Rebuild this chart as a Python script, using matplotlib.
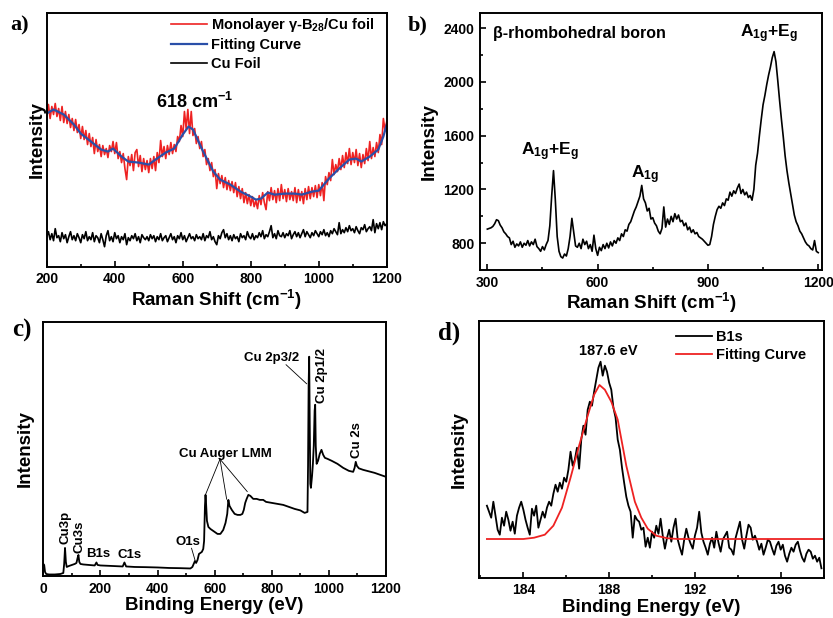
import matplotlib
matplotlib.use('Agg')
import matplotlib.pyplot as plt
from matplotlib.ticker import MultipleLocator

plt.rcParams['font.family'] = ['Liberation Sans', 'DejaVu Sans']
plt.rcParams['font.weight'] = 'bold'
plt.rcParams['axes.labelweight'] = 'bold'
plt.rcParams['mathtext.default'] = 'regular'

# ---------------- a) Raman, monolayer gamma-B28 / Cu foil ----------------
a_x = list(range(200, 1201, 5))
a_red = [150, 162, 148, 160, 152, 163, 150, 158, 146, 160,
         144, 155, 143, 152, 139, 148, 136, 147, 134, 142,
         128, 140, 127, 136, 122, 133, 120, 129, 113, 127,
         115, 122, 110, 121, 112, 118, 109, 121, 115, 125,
         113, 124, 108, 115, 104, 113, 98, 87, 110, 101,
         112, 96, 114, 117, 100, 111, 95, 108, 97, 106,
         94, 108, 98, 110, 96, 114, 104, 126, 110, 120,
         108, 121, 112, 124, 113, 122, 115, 130, 125, 141,
         130, 155, 138, 157, 133, 155, 131, 138, 123, 130,
         118, 125, 110, 117, 102, 108, 96, 104, 90, 97,
         78, 93, 83, 91, 79, 89, 77, 86, 76, 85,
         74, 84, 70, 80, 68, 78, 64, 74, 63, 72,
         61, 70, 60, 66, 58, 71, 62, 74, 64, 57,
         75, 66, 79, 67, 76, 64, 78, 66, 82, 68,
         77, 65, 78, 67, 75, 66, 79, 64, 77, 66,
         75, 63, 78, 67, 80, 68, 79, 70, 81, 69,
         82, 71, 84, 66, 90, 82, 94, 86, 107, 92,
         102, 95, 108, 97, 111, 99, 114, 103, 118, 102,
         114, 104, 117, 101, 113, 99, 112, 103, 118, 106,
         125, 108, 119, 110, 124, 114, 132, 122, 148, 136,
         145]
a_fit_x = [200, 220, 250, 280, 300, 330, 360, 380, 395, 420, 440, 470, 500,
           520, 550, 575, 600, 617, 630, 660, 690, 710, 740, 770, 800, 815,
           830, 850, 870, 900, 930, 950, 980, 1000, 1030, 1060, 1090, 1110,
           1125, 1150, 1175, 1190, 1200]
a_fit = [153, 157, 152, 142, 133, 125, 117, 115, 118, 110, 105, 104, 102,
         107, 114, 118, 132, 140, 137, 115, 95, 87, 82, 75, 70, 67,
         68, 74, 72, 73, 73, 72, 75, 76, 88, 98, 107, 108,
         105, 110, 117, 130, 142]
a_cu = [30, 35, 27, 33, 26, 38, 29, 31, 25, 34,
        28, 32, 24, 30, 35, 27, 31, 26, 33, 29,
        24, 32, 28, 35, 26, 30, 27, 34, 25, 31,
        29, 24, 33, 27, 20, 31, 36, 26, 30, 25,
        34, 28, 31, 24, 30, 27, 33, 22, 29, 26,
        31, 28, 33, 26, 30, 24, 32, 29, 27, 30,
        26, 32, 28, 31, 25, 30, 27, 33, 26, 29,
        31, 25, 29, 33, 27, 30, 24, 31, 28, 34,
        27, 31, 25, 29, 33, 28, 30, 26, 32, 28,
        30, 27, 33, 26, 31, 29, 35, 27, 30, 25,
        22, 31, 28, 34, 37, 29, 33, 27, 31, 26,
        32, 28, 30, 25, 33, 29, 31, 27, 35, 30,
        28, 33, 27, 31, 29, 34, 30, 36, 28, 32,
        30, 35, 41, 29, 33, 28, 36, 31, 30, 34,
        29, 33, 31, 36, 28, 32, 35, 30, 34, 29,
        33, 37, 30, 35, 32, 29, 34, 31, 36, 33,
        30, 35, 32, 37, 31, 34, 30, 36, 33, 38,
        35, 32, 44, 33, 37, 34, 39, 35, 41, 36,
        38, 34, 40, 36, 33, 39, 37, 42, 35, 38,
        40, 36, 47, 34, 43, 38, 44, 37, 45, 41,
        43]

# ---------------- b) Raman, beta-rhombohedral boron ----------------
b_x = list(range(300, 1201, 5))
b_y = [905, 910, 915, 925, 945, 975, 968, 935, 915, 885,
       870, 850, 840, 790, 815, 770, 795, 780, 810, 770,
       800, 785, 820, 780, 810, 790, 830, 775, 760, 740,
       775, 750, 790, 820, 930, 1150, 1340, 1120, 850, 740,
       700, 690, 720, 705, 760, 850, 985, 880, 780, 770,
       800, 760, 830, 790, 815, 760, 790, 740, 860, 760,
       710, 770, 745, 790, 760, 800, 765, 810, 780, 820,
       800, 840, 820, 870, 850, 900, 890, 940, 960, 1000,
       1040, 1070, 1110, 1150, 1230, 1130, 1100, 1040, 1060, 980,
       990, 950, 930, 890, 870, 910, 1070, 920, 980, 940,
       1000, 960, 1020, 980, 1010, 960, 970, 930, 950, 900,
       920, 880, 900, 870, 880, 850, 840, 830, 815, 800,
       785, 790, 850, 940, 1000, 1050, 1075, 1060, 1100, 1080,
       1130, 1120, 1180, 1150, 1190, 1170, 1210, 1240, 1170, 1200,
       1160, 1180, 1140, 1155, 1120, 1200, 1380, 1470, 1600, 1720,
       1830, 1900, 1980, 2050, 2110, 2180, 2225, 2150, 2010, 1860,
       1720, 1590, 1450, 1340, 1250, 1170, 1090, 1010, 960, 930,
       890, 870, 840, 810, 790, 780, 760, 750, 820, 740,
       730]

# ---------------- c) XPS survey ----------------
c_x = [0, 3, 6, 10, 20, 40, 60, 70, 73, 76, 79, 82, 90, 100, 110, 116, 120,
       123, 126, 130, 140, 160, 180, 186, 190, 200, 240, 278, 284, 290, 320,
       360, 400, 440, 480, 515, 522, 528, 531, 535, 540, 545, 550, 555, 560,
       563, 566, 568, 570, 573, 578, 585, 595, 610, 620, 630, 638, 644, 648,
       652, 660, 670, 680, 690, 697, 702, 707, 712, 718, 725, 735, 747, 758,
       770, 780, 800, 820, 840, 860, 880, 900, 915, 925, 927, 929, 931, 933,
       935, 937, 939, 941, 944, 947, 950, 952, 954, 957, 962, 968, 974, 980,
       986, 995, 1010, 1030, 1050, 1070, 1085, 1090, 1094, 1098, 1105, 1120,
       1140, 1160, 1180, 1200]
c_y = [12, 11, 4, 2, 1.5, 1.5, 2, 3, 12, 28, 14, 9, 10, 11, 12, 13, 18,
       21, 14, 12, 11.5, 11, 10.5, 13.5, 11, 10.5, 10, 9.5, 13.5, 9.5, 9,
       8.8, 8.5, 8, 7.8, 7.5, 9, 13, 15, 13, 16, 22, 23, 24, 27,
       35, 70, 81, 72, 55, 49, 47, 45, 42, 42, 46, 53, 62, 76,
       70, 66, 62, 61, 61, 62, 66, 73, 77, 81, 80, 77, 77, 76,
       76, 74, 73, 72, 71, 69, 67, 65.5, 63, 64, 110, 190, 219, 150,
       92, 88, 94, 100, 112, 130, 165, 171, 130, 112, 115, 122, 126, 121,
       118, 117, 115, 112, 108, 105, 104, 108, 114, 110, 107.5, 106,
       104.5, 103, 101, 99]

# ---------------- d) XPS B1s ----------------
d_x = [round(182.3 + 0.1 * i, 1) for i in range(157)]
d_y = [72, 66, 60, 76, 62, 48, 43, 60, 52, 66,
       58, 47, 56, 44, 62, 70, 76, 68, 58, 50,
       43, 69, 62, 72, 50, 58, 66, 60, 70, 76,
       72, 84, 93, 86, 95, 89, 100, 96, 108, 126,
       112, 118, 130, 109, 138, 152, 143, 168, 176, 172,
       186, 198, 210, 216, 202, 212, 206, 195, 188, 170,
       160, 138, 128, 110, 95, 81, 72, 66, 40, 62,
       58, 56, 48, 50, 31, 40, 30, 46, 40, 52,
       44, 59, 42, 29, 40, 48, 36, 50, 59, 38,
       30, 23, 38, 49, 40, 34, 29, 42, 50, 66,
       45, 36, 30, 23, 34, 40, 30, 46, 35, 26,
       38, 42, 46, 30, 28, 23, 40, 48, 56, 38,
       29, 42, 53, 50, 38, 42, 36, 28, 34, 23,
       30, 38, 36, 29, 23, 32, 36, 28, 33, 22,
       16, 24, 30, 26, 33, 36, 27, 20, 16, 24,
       28, 26, 19, 22, 16, 20, 9.4]
d_fit_x = [182.3, 184.0, 184.5, 185.0, 185.4, 185.8, 186.2, 186.6, 187.0,
           187.3, 187.55, 187.8, 188.1, 188.4, 188.8, 189.2, 189.5, 189.8,
           190.2, 190.7, 191.2, 198.0]
d_fit = [38.7, 38.7, 40, 43, 52, 70, 100, 132, 162,
         183, 192.7, 188, 176, 158, 112, 76, 60, 49,
         42, 39.5, 38.7, 38.7]


def uklad_osi(ax):
    # ramka, ticki do srodka, tylko dol i lewa
    for s in ax.spines.values():
        s.set_linewidth(1.4)
    ax.tick_params(which='both', direction='in', top=False, right=False,
                   labelsize=10, width=1.2)
    ax.tick_params(which='major', length=4, pad=4)
    ax.tick_params(which='minor', length=2.5)


fig = plt.figure(figsize=(8.33, 6.18), dpi=100)

# a)
ax = fig.add_axes([0.0561, 0.5684, 0.4082, 0.41])
ax.plot(a_x, a_red, color='#ee2222', lw=1.2, label=r'Monolayer γ-B$_{28}$/Cu foil')
ax.plot(a_fit_x, a_fit, color='#2a4fa8', lw=1.6, label='Fitting Curve')
ax.plot(a_x, a_cu, color='black', lw=1.2, label='Cu Foil')
ax.set_xlim(200, 1200)
ax.set_ylim(0, 253)
ax.set_xticks([200, 400, 600, 800, 1000, 1200])
ax.xaxis.set_minor_locator(MultipleLocator(100))
ax.set_yticks([])
uklad_osi(ax)
ax.set_xlabel(r'Raman Shift (cm$^{-1}$)', fontsize=13.5, labelpad=1)
ax.set_ylabel('Intensity', fontsize=13.5, labelpad=1)
ax.text(636, 165, r'618 cm$^{-1}$', fontsize=13, ha='center', va='center')
ax.legend(loc='upper left', bbox_to_anchor=(0.365, 0.99), frameon=False,
          fontsize=10.5, handlelength=2.5, handletextpad=0.25,
          labelspacing=0.3, borderpad=0, borderaxespad=0)

# b)
ax = fig.add_axes([0.5762, 0.5631, 0.4109, 0.4154])
ax.plot(b_x, b_y, color='black', lw=1.2)
ax.set_xlim(280, 1211)
ax.set_ylim(601, 2510)
ax.set_xticks([300, 600, 900, 1200])
ax.xaxis.set_minor_locator(MultipleLocator(150))
ax.set_yticks([800, 1200, 1600, 2000, 2400])
ax.yaxis.set_minor_locator(MultipleLocator(200))
uklad_osi(ax)
ax.set_xlabel(r'Raman Shift (cm$^{-1}$)', fontsize=13.5, labelpad=1)
ax.set_ylabel('Intensity', fontsize=13.5, labelpad=4)
ax.text(315, 2363, 'β-rhombohedral boron', fontsize=11.5, ha='left', va='center')
ax.text(470, 1480, r'A$_{1g}$+E$_g$', fontsize=12.5, ha='center', va='center')
ax.text(729, 1310, r'A$_{1g}$', fontsize=12.5, ha='center', va='center')
ax.text(1065, 2360, r'A$_{1g}$+E$_g$', fontsize=12.5, ha='center', va='center')

# c)
ax = fig.add_axes([0.052, 0.068, 0.4114, 0.4115])
ax.plot(c_x, c_y, color='black', lw=1.3)
ax.set_xlim(0, 1200)
ax.set_ylim(0, 254)
ax.set_xticks([0, 200, 400, 600, 800, 1000, 1200])
ax.xaxis.set_minor_locator(MultipleLocator(100))
ax.set_yticks([])
uklad_osi(ax)
ax.set_xlabel('Binding Energy (eV)', fontsize=13.5, labelpad=1)
ax.set_ylabel('Intensity', fontsize=13.5, labelpad=7)
ax.text(78, 48, 'Cu3p', fontsize=9.5, rotation=90, ha='center', va='center')
ax.text(126, 39, 'Cu3s', fontsize=9.5, rotation=90, ha='center', va='center')
ax.text(193, 22, 'B1s', fontsize=9.5, ha='center', va='center')
ax.text(301, 21, 'C1s', fontsize=9.5, ha='center', va='center')
ax.text(506, 34, 'O1s', fontsize=9.5, ha='center', va='center')
ax.plot([519, 531], [27.7, 16], color='black', lw=0.6)
ax.text(636, 122, 'Cu Auger LMM', fontsize=9.5, ha='center', va='center')
for tx, ty in [(568.6, 81.7), (642, 76.7), (714, 84.3)]:
    ax.plot([618.7, tx], [116.7, ty], color='black', lw=0.6)
ax.text(800, 218, 'Cu 2p3/2', fontsize=9.5, ha='center', va='center')
ax.plot([850, 922], [211, 192], color='black', lw=0.6)
ax.text(975, 200, 'Cu 2p1/2', fontsize=9.5, rotation=90, ha='center', va='center')
ax.text(1097, 136, 'Cu 2s', fontsize=9.5, rotation=90, ha='center', va='center')

# d)
ax = fig.add_axes([0.575, 0.0652, 0.4142, 0.4154])
ax.plot(d_x, d_y, color='black', lw=1.3, label='B1s')
ax.plot(d_fit_x, d_fit, color='#ee2222', lw=1.3, label='Fitting Curve')
ax.set_xlim(181.93, 198.02)
ax.set_ylim(0, 256.7)
ax.set_xticks([184, 188, 192, 196])
ax.xaxis.set_minor_locator(MultipleLocator(2))
ax.set_yticks([])
uklad_osi(ax)
ax.set_xlabel('Binding Energy (eV)', fontsize=13.5, labelpad=1)
ax.set_ylabel('Intensity', fontsize=13.5, labelpad=8)
ax.text(187.95, 226.7, '187.6 eV', fontsize=10.5, ha='center', va='center')
ax.legend(loc='upper left', bbox_to_anchor=(0.57, 0.965), frameon=False,
          fontsize=10.5, handlelength=2.5, handletextpad=0.25,
          labelspacing=0.3, borderpad=0, borderaxespad=0)

# etykiety paneli
for lx, ly, lab, fs in [(0.012, 0.958, 'a)', 16), (0.49, 0.958, 'b)', 16),
                        (0.014, 0.466, 'c)', 18), (0.526, 0.461, 'd)', 18)]:
    fig.text(lx, ly, lab, fontsize=fs, fontweight='bold',
             family='Liberation Serif', ha='left', va='center')

fig.savefig('out.png', dpi=100)
